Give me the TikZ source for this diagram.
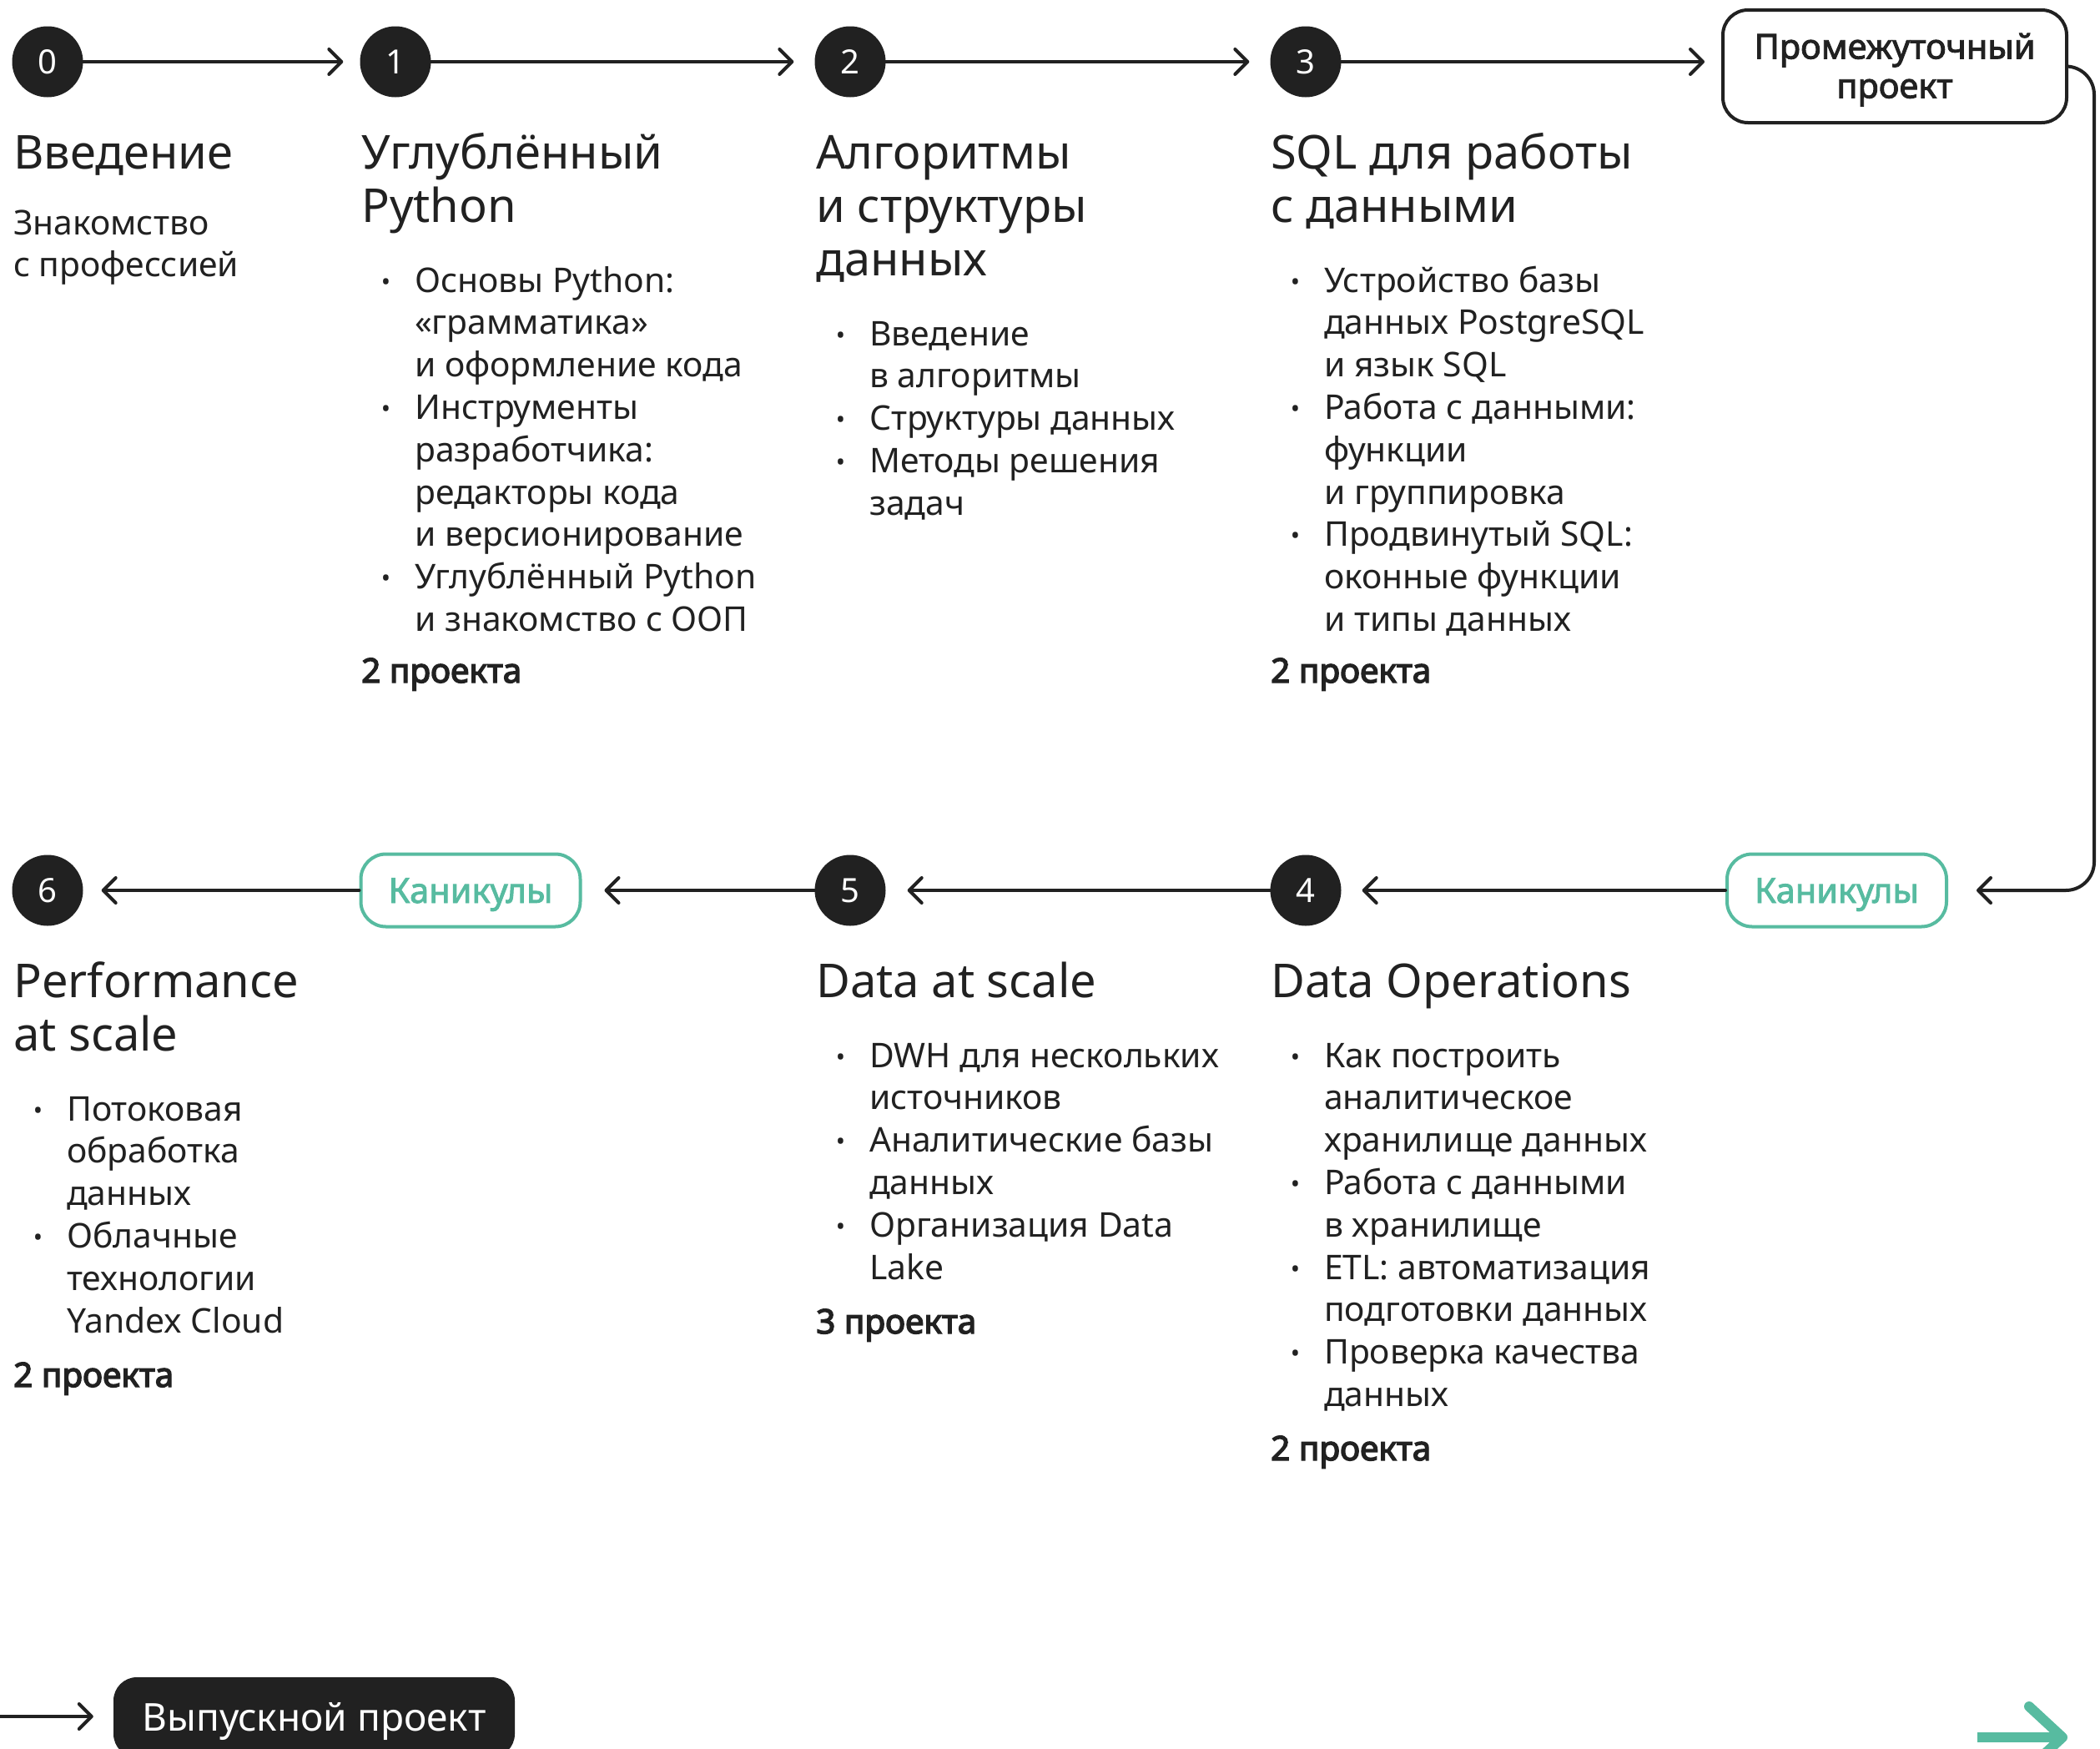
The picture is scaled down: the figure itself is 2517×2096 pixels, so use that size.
\documentclass[tikz,border=0pt]{standalone}
\usepackage{fontspec}
\setmainfont{Noto Sans}
\newfontfamily\semib{Noto Sans}[FakeBold=2.2]
\newfontfamily\boldf{Noto Sans}[FakeBold=3.5]
\usetikzlibrary{arrows.meta}
\definecolor{ink}{RGB}{33,33,33}
\definecolor{mint}{RGB}{87,187,160}
\newcommand\bul{\leavevmode\llap{\raisebox{2pt}{\fontsize{30}{30}\selectfont •}\hspace{29pt}}}
\newcommand\hfont{\fontsize{56}{64}\selectfont}
\newcommand\bfont{\fontsize{40.8}{50.8}\selectfont}
\newcommand\head[1]{\parbox[t]{800pt}{\raggedright\hfont #1}}
\newcommand\body[1]{\parbox[t]{800pt}{\raggedright\bfont #1}}
\newcommand\proj[1]{{\boldf\fontsize{40.5}{44}\selectfont #1}}
\begin{document}
\begin{tikzpicture}[x=1pt,y=-1pt,
  stage/.style={circle, fill=ink, text=white, minimum size=85pt, inner sep=0pt,
    font=\fontsize{40}{40}\selectfont, text height=29pt, text depth=0pt},
  arr/.style={draw=ink, line width=4pt, line cap=round,
    -{Straight Barb[length=15pt,width=30pt,round]}},
  blk/.style={anchor=base west, inner sep=0pt, text=ink},
  midbox/.style={draw=ink, line width=4pt, rounded corners=30pt, minimum width=412pt,
    minimum height=135pt, inner sep=0pt, text=ink,
    font=\semib\fontsize{41.5}{47}\selectfont, text height=29pt, text depth=47pt},
  pause/.style={draw=mint, line width=4pt, rounded corners=30pt, minimum width=263pt,
    minimum height=87pt, inner sep=0pt, text=mint,
    font=\semib\fontsize{41.5}{41.5}\selectfont, text height=30pt, text depth=0pt},
  final/.style={fill=ink, rounded corners=28pt, minimum width=481pt, minimum height=96pt,
    inner sep=0pt, text=white, font=\fontsize{46}{46}\selectfont, text height=33pt, text depth=0pt}
]
\useasboundingbox (0,0) rectangle (2517,2096);
\fill[white] (0,0) rectangle (2517,2096);
\clip (0,0) rectangle (2517,2096);

% row 1 stages
\node[stage] (s0) at (57,74) {0};
\node[stage] (s1) at (474,74) {1};
\node[stage] (s2) at (1019,74) {2};
\node[stage] (s3) at (1565,74) {3};
\node[midbox] (mid) at (2271,79.5) {\parbox[t]{400pt}{\centering Промежуточный\\проект}};

% row 2 stages
\node[stage] (s4) at (1565,1067) {4};
\node[stage] (s5) at (1019,1067) {5};
\node[stage] (s6) at (57,1067) {6};
\node[pause] (kR) at (2201.5,1067) {Каникулы};
\node[pause] (kL) at (564,1067) {Каникулы};

% final
\node[final] (fin) at (376.5,2058) {Выпускной проект};
\coordinate (fstart) at (-5,2057);
\coordinate (bendA) at (2510,79.5);
\coordinate (bendB) at (2510,1067);

% connectors
\draw[arr, shorten >=20pt] (s0) -- (s1);
\draw[arr, shorten >=25pt] (s1) -- (s2);
\draw[arr, shorten >=25pt] (s2) -- (s3);
\draw[arr, shorten >=20pt] (s3) -- (s3 -| mid.west);
\draw[arr, shorten >=34pt, rounded corners=34pt] (mid.east) -- (bendA) -- (bendB) -- (kR.east);
\draw[arr, shorten >=25pt] (kR) -- (s4);
\draw[arr, shorten >=26pt] (s4) -- (s5);
\draw[arr, shorten >=27pt] (s5) -- (kL);
\draw[arr, shorten >=22pt] (kL) -- (s6);
\draw[arr, shorten >=24pt] (fstart) -- (fstart -| fin.west);

% green arrow
\draw[mint, line width=12pt, line cap=butt] (2370,2082) -- (2470,2082);
\draw[mint, line width=12pt, line cap=round, line join=round] (2432,2045) -- (2472,2082) -- (2432,2119);

% texts row 1
\node[blk] (h0) at (16,202) {\head{Введение}};
\node[blk] (t0) at (16,281) {\body{Знакомство\\с профессией}};

\node[blk] (h1) at (433,202) {\head{Углублённый\\Python}};
\node[blk] (l1) at (497,350) {\body{\bul Основы Python:\\«грамматика»\\и оформление кода\\\bul Инструменты\\разработчика:\\редакторы кода\\и версионирование\\\bul Углублённый Python\\и знакомство с ООП}};
\node[blk] (p1) at (433,818) {\proj{2 проекта}};

\node[blk] (h2) at (978,202) {\head{Алгоритмы\\и структуры\\данных}};
\node[blk] (l2) at (1042,414) {\body{\bul Введение\\в алгоритмы\\\bul Структуры данных\\\bul Методы решения\\задач}};

\node[blk] (h3) at (1523,202) {\head{SQL для работы\\с данными}};
\node[blk] (l3) at (1587,350) {\body{\bul Устройство базы\\данных PostgreSQL\\и язык SQL\\\bul Работа с данными:\\функции\\и группировка\\\bul Продвинутый SQL:\\оконные функции\\и типы данных}};
\node[blk] (p3) at (1523,818) {\proj{2 проекта}};

% texts row 2
\node[blk] (h6) at (16,1195) {\head{Performance\\at scale}};
\node[blk] (l6) at (80,1343) {\body{\bul Потоковая\\обработка\\данных\\\bul Облачные\\технологии\\Yandex Cloud}};
\node[blk] (p6) at (16,1662) {\proj{2 проекта}};

\node[blk] (h5) at (978,1195) {\head{Data at scale}};
\node[blk] (l5) at (1042,1279) {\body{\bul DWH для нескольких\\источников\\\bul Аналитические базы\\данных\\\bul Организация Data\\Lake}};
\node[blk] (p5) at (978,1598) {\proj{3 проекта}};

\node[blk] (h4) at (1523,1195) {\head{Data Operations}};
\node[blk] (l4) at (1587,1279) {\body{\bul Как построить\\аналитическое\\хранилище данных\\\bul Работа с данными\\в хранилище\\\bul ETL: автоматизация\\подготовки данных\\\bul Проверка качества\\данных}};
\node[blk] (p4) at (1523,1750) {\proj{2 проекта}};
\end{tikzpicture}
\end{document}
